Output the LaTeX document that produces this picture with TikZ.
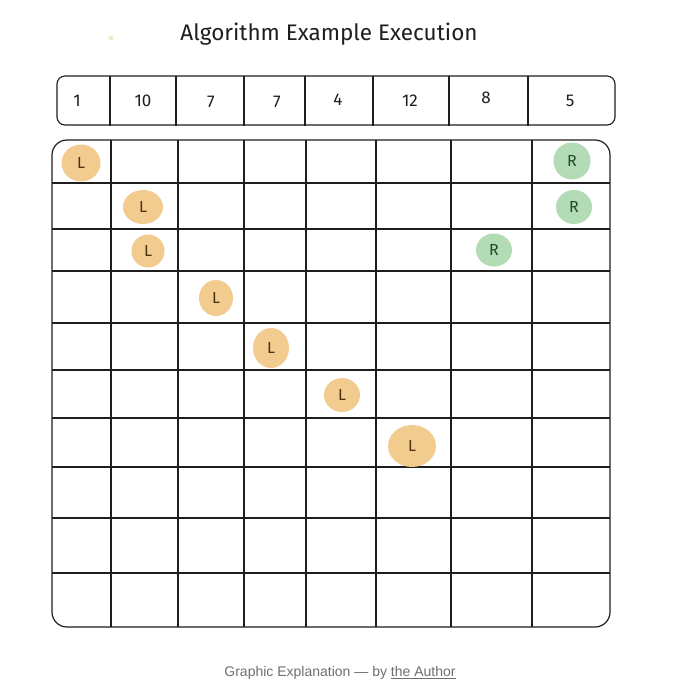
\documentclass[tikz,border=0pt]{standalone}
\usepackage{fontspec}
\setmainfont{Liberation Sans}
\newfontfamily\hand{Fira Sans}
\usetikzlibrary{shapes.geometric}
\definecolor{ink}{HTML}{1E1E1E}
\definecolor{lfill}{HTML}{F2CB8F}
\definecolor{rfill}{HTML}{B3DBB5}
\definecolor{ltext}{HTML}{4A3410}
\definecolor{rtext}{HTML}{1F4A26}
\definecolor{capcol}{HTML}{6E6E6E}
\definecolor{dotcol}{HTML}{F3ECCF}
\begin{document}
\begin{tikzpicture}[x=1pt,y=-1pt,
  gridline/.style={draw=ink,line width=1.2pt},
  arrline/.style={draw=ink,line width=1.1pt},
  num/.style={font=\hand\fontsize{17}{20}\selectfont,text=ink,inner sep=0pt},
  marker/.style={ellipse,inner sep=0pt,font=\hand\fontsize{16}{18}\selectfont},
  lmark/.style={marker,fill=lfill,text=ltext},
  rmark/.style={marker,fill=rfill,text=rtext}]
\useasboundingbox (0,0) rectangle (680,682);
\fill[white] (0,0) rectangle (680,682);
% title
\node[font=\hand\fontsize{22.5}{26}\selectfont,text=ink] (title) at (329,34) {Algorithm Example Execution};
\fill[dotcol] (111,38) circle (2.5);
% array
\draw[arrline,rounded corners=8pt] (57,76) rectangle (615,125);
\foreach \x in {110,176,244,305,373,449,528} \draw[arrline] (\x,76) -- (\x,126);
\node[num] (n1) at (77,101) {1};
\node[num] (n2) at (143,101) {10};
\node[num] (n3) at (211,102) {7};
\node[num] (n4) at (277,102) {7};
\node[num] (n5) at (338,100) {4};
\node[num] (n6) at (410,101) {12};
\node[num] (n7) at (486,98) {8};
\node[num] (n8) at (570,101) {5};
% grid
\draw[gridline,rounded corners=15pt] (52,140) rectangle (610,627);
\foreach \x in {111,178,244,306,376,451,532} \draw[gridline] (\x,140) -- (\x,627);
\foreach \y in {183,229,271,323,370,418,467,518,573} \draw[gridline] (52,\y) -- (610,\y);
% markers
\node[lmark,minimum width=39pt,minimum height=37pt] (l1) at (81,163) {L};
\node[lmark,minimum width=40pt,minimum height=34pt] (l2) at (143,207) {L};
\node[lmark,minimum width=33pt,minimum height=33pt] (l3) at (148,251) {L};
\node[lmark,minimum width=34pt,minimum height=36pt] (l4) at (216,298) {L};
\node[lmark,minimum width=36pt,minimum height=40pt] (l5) at (271,348) {L};
\node[lmark,minimum width=36pt,minimum height=34pt] (l6) at (342,395) {L};
\node[lmark,minimum width=48pt,minimum height=42pt] (l7) at (412,446) {L};
\node[rmark,minimum width=37pt,minimum height=37pt] (r1) at (572,161) {R};
\node[rmark,minimum width=36pt,minimum height=34pt] (r2) at (574,207) {R};
\node[rmark,minimum width=36pt,minimum height=33pt] (r3) at (494,250) {R};
% caption
\node[font=\fontsize{14}{16}\selectfont,text=capcol] (caption) at (340,673) {Graphic Explanation — by \underline{the Author}};
\end{tikzpicture}
\end{document}
